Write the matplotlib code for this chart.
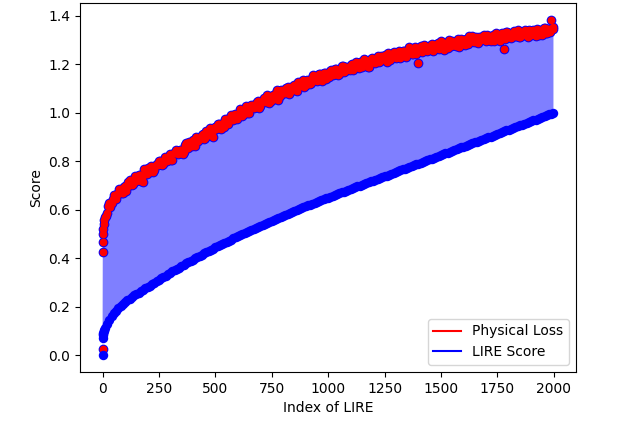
import matplotlib
matplotlib.use("Agg")
import matplotlib.pyplot as plt
from matplotlib.lines import Line2D

# sample indices: dense at the very start, then every 5 (loss) / every 10 (score)
loss_index = [0, 1, 2, 3, 4, 6, 8] + list(range(10, 1996, 5)) + [1999]
score_index = [0, 1, 2, 3, 4, 6, 8] + list(range(10, 2000, 10)) + [1999]

physical_loss = [
    0.025, 0.426, 0.465, 0.500, 0.520, 0.540, 0.556,
    0.570, 0.574, 0.587, 0.616, 0.627, 0.610, 0.629, 0.643, 0.660, 0.660,
    0.644, 0.659, 0.668, 0.687, 0.684, 0.668, 0.667, 0.694, 0.697, 0.676,
    0.693, 0.714, 0.723, 0.710, 0.702, 0.707, 0.722, 0.738, 0.719, 0.724,
    0.743, 0.744, 0.720, 0.729, 0.715, 0.767, 0.752, 0.748, 0.772, 0.764,
    0.755, 0.779, 0.774, 0.757, 0.762, 0.784, 0.789, 0.783, 0.803, 0.800,
    0.788, 0.784, 0.788, 0.819, 0.814, 0.803, 0.808, 0.818, 0.829, 0.804,
    0.805, 0.834, 0.833, 0.845, 0.843, 0.829, 0.834, 0.845, 0.847, 0.830,
    0.838, 0.866, 0.875, 0.858, 0.856, 0.880, 0.873, 0.863, 0.888, 0.885,
    0.862, 0.901, 0.895, 0.884, 0.890, 0.895, 0.909, 0.914, 0.893, 0.894,
    0.926, 0.918, 0.910, 0.937, 0.924, 0.916, 0.902, 0.937, 0.941, 0.931,
    0.952, 0.952, 0.936, 0.931, 0.954, 0.956, 0.941, 0.974, 0.973, 0.954,
    0.967, 0.979, 0.989, 0.974, 0.969, 0.996, 0.990, 0.974, 0.986, 0.993,
    1.014, 1.009, 0.987, 0.997, 1.006, 1.026, 1.020, 0.999, 0.998, 1.024,
    1.033, 1.033, 1.019, 1.024, 1.033, 1.046, 1.049, 1.020, 1.029, 1.045,
    1.050, 1.063, 1.047, 1.044, 1.072, 1.062, 1.042, 1.049, 1.070, 1.075,
    1.058, 1.067, 1.082, 1.093, 1.052, 1.069, 1.094, 1.087, 1.086, 1.080,
    1.083, 1.103, 1.108, 1.079, 1.085, 1.107, 1.105, 1.104, 1.113, 1.096,
    1.090, 1.126, 1.124, 1.110, 1.113, 1.125, 1.137, 1.108, 1.116, 1.137,
    1.130, 1.133, 1.117, 1.124, 1.144, 1.155, 1.144, 1.134, 1.132, 1.142,
    1.161, 1.160, 1.143, 1.133, 1.164, 1.163, 1.138, 1.162, 1.161, 1.148,
    1.171, 1.177, 1.157, 1.162, 1.181, 1.179, 1.169, 1.157, 1.160, 1.181,
    1.194, 1.195, 1.170, 1.173, 1.187, 1.186, 1.181, 1.177, 1.199, 1.202,
    1.176, 1.189, 1.201, 1.211, 1.196, 1.184, 1.211, 1.207, 1.190, 1.202,
    1.221, 1.216, 1.200, 1.190, 1.187, 1.214, 1.220, 1.228, 1.217, 1.209,
    1.204, 1.227, 1.234, 1.209, 1.213, 1.236, 1.230, 1.223, 1.238, 1.220,
    1.210, 1.248, 1.235, 1.218, 1.231, 1.240, 1.252, 1.245, 1.228, 1.230,
    1.247, 1.255, 1.228, 1.239, 1.255, 1.257, 1.247, 1.232, 1.244, 1.253,
    1.270, 1.262, 1.244, 1.242, 1.263, 1.273, 1.241, 1.253, 1.207, 1.266,
    1.274, 1.252, 1.260, 1.279, 1.274, 1.264, 1.254, 1.259, 1.273, 1.280,
    1.285, 1.256, 1.265, 1.280, 1.275, 1.287, 1.264, 1.273, 1.295, 1.287,
    1.275, 1.261, 1.289, 1.285, 1.267, 1.299, 1.289, 1.277, 1.297, 1.288,
    1.279, 1.277, 1.291, 1.303, 1.270, 1.285, 1.305, 1.302, 1.287, 1.281,
    1.304, 1.303, 1.283, 1.315, 1.304, 1.296, 1.316, 1.291, 1.298, 1.313,
    1.291, 1.286, 1.314, 1.309, 1.299, 1.316, 1.322, 1.303, 1.298, 1.323,
    1.312, 1.299, 1.295, 1.313, 1.323, 1.298, 1.312, 1.330, 1.321, 1.308,
    1.296, 1.324, 1.328, 1.315, 1.262, 1.306, 1.333, 1.332, 1.322, 1.312,
    1.309, 1.327, 1.330, 1.338, 1.318, 1.318, 1.341, 1.313, 1.312, 1.335,
    1.331, 1.323, 1.327, 1.341, 1.318, 1.311, 1.342, 1.336, 1.322, 1.332,
    1.342, 1.322, 1.316, 1.344, 1.340, 1.319, 1.336, 1.341, 1.323, 1.349,
    1.350, 1.329, 1.329, 1.347, 1.347, 1.334, 1.384, 1.346,
    1.354,
]

lire_score = [
    0.000, 0.072, 0.081, 0.088, 0.093, 0.100, 0.105,
    0.110, 0.130, 0.146, 0.160, 0.172, 0.183, 0.193, 0.203, 0.211, 0.219,
    0.226, 0.233, 0.240, 0.246, 0.252, 0.257, 0.263, 0.269, 0.275, 0.281,
    0.287, 0.293, 0.299, 0.305, 0.311, 0.317, 0.323, 0.328, 0.334, 0.339,
    0.345, 0.350, 0.356, 0.361, 0.367, 0.372, 0.378, 0.383, 0.389, 0.394,
    0.399, 0.405, 0.410, 0.415, 0.420, 0.425, 0.430, 0.434, 0.439, 0.444,
    0.449, 0.454, 0.459, 0.463, 0.468, 0.472, 0.477, 0.482, 0.486, 0.491,
    0.495, 0.499, 0.504, 0.508, 0.512, 0.517, 0.521, 0.525, 0.530, 0.534,
    0.538, 0.542, 0.546, 0.551, 0.555, 0.559, 0.563, 0.567, 0.571, 0.575,
    0.579, 0.583, 0.587, 0.591, 0.595, 0.599, 0.603, 0.607, 0.610, 0.614,
    0.618, 0.621, 0.625, 0.629, 0.632, 0.636, 0.640, 0.643, 0.647, 0.650,
    0.654, 0.657, 0.661, 0.664, 0.668, 0.671, 0.675, 0.678, 0.682, 0.685,
    0.689, 0.692, 0.696, 0.699, 0.703, 0.706, 0.710, 0.713, 0.717, 0.720,
    0.724, 0.727, 0.731, 0.734, 0.738, 0.741, 0.745, 0.748, 0.752, 0.755,
    0.759, 0.762, 0.766, 0.769, 0.773, 0.776, 0.780, 0.783, 0.787, 0.790,
    0.794, 0.797, 0.801, 0.804, 0.808, 0.811, 0.815, 0.818, 0.822, 0.825,
    0.829, 0.832, 0.836, 0.839, 0.843, 0.846, 0.850, 0.853, 0.857, 0.860,
    0.864, 0.867, 0.871, 0.874, 0.878, 0.881, 0.885, 0.888, 0.892, 0.895,
    0.899, 0.902, 0.906, 0.909, 0.913, 0.916, 0.920, 0.923, 0.927, 0.930,
    0.934, 0.937, 0.941, 0.944, 0.948, 0.951, 0.955, 0.958, 0.962, 0.965,
    0.969, 0.972, 0.976, 0.979, 0.983, 0.986, 0.990, 0.993, 0.997,
    1.000,
]

fig = plt.figure(figsize=(6.4, 4.24), dpi=100)
ax = fig.add_subplot(111)
fig.subplots_adjust(left=0.125, right=0.9, top=0.993, bottom=0.123)

# shaded gap between the two curves
ax.fill(loss_index + score_index[::-1], physical_loss + lire_score[::-1],
        color='blue', alpha=0.5, linewidth=0)
# loss dots: blue rim underneath, red body on top, so only the outer edge stays blue
ax.plot(loss_index, physical_loss, 'o', color='blue', markersize=7.0, markeredgewidth=0)
ax.plot(loss_index, physical_loss, 'o', color='red', markersize=5.6, markeredgewidth=0)
ax.plot(score_index, lire_score, 'o', color='blue', markersize=6.8, markeredgewidth=0)

handles = [Line2D([0], [0], color='red', label='Physical Loss'),
           Line2D([0], [0], color='blue', label='LIRE Score')]
ax.legend(handles=handles, loc='lower right')
ax.set_xlabel('Index of LIRE')
ax.set_ylabel('Score')

fig.savefig('out.png', dpi=100)
